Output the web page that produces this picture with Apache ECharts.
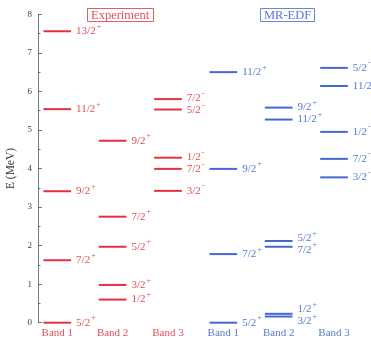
<!DOCTYPE html>
<html><head><meta charset="utf-8">
<script src="https://cdn.jsdelivr.net/npm/echarts@6/dist/echarts.min.js"></script>
<style>html,body{margin:0;padding:0;background:#fff}#c{width:371px;height:338px}</style>
</head><body><div id="c"></div><script>
// Categories
const bandNames = ['Band 1', 'Band 2', 'Band 3', 'Band 1', 'Band 2', 'Band 3'];
// Experiment levels (MeV) and spin-parity labels
const expBand1E = [0, 1.62, 3.41, 5.54, 7.56];
const expBand1J = ['5/2+', '7/2+', '9/2+', '11/2+', '13/2+'];
const expBand2E = [0.60, 0.98, 1.97, 2.75, 4.72];
const expBand2J = ['1/2+', '3/2+', '5/2+', '7/2+', '9/2+'];
const expBand3E = [3.42, 3.99, 4.28, 5.53, 5.80];
const expBand3J = ['3/2-', '7/2-', '1/2-', '5/2-', '7/2-'];
// MR-EDF levels
const mrBand1E = [0, 1.78, 3.99, 6.50];
const mrBand1J = ['5/2+', '7/2+', '9/2+', '11/2+'];
const mrBand2E = [0.16, 0.23, 1.97, 2.12, 5.27, 5.58];
const mrBand2J = ['3/2+', '1/2+', '7/2+', '5/2+', '11/2+', '9/2+'];
const mrBand3E = [3.77, 4.25, 4.95, 6.14, 6.61];
const mrBand3J = ['3/2-', '7/2-', '1/2-', '11/2-', '5/2-'];
const yTicks = [0, 1, 2, 3, 4, 5, 6, 7, 8];

const bandE = [expBand1E, expBand2E, expBand3E, mrBand1E, mrBand2E, mrBand3E];
const bandJ = [expBand1J, expBand2J, expBand3J, mrBand1J, mrBand2J, mrBand3J];

const RED = '#e3313c', BLUE = '#4468d4';
const RED_T = '#e2505a', BLUE_T = '#5878d2';
const FONT = 'Liberation Serif';

const data = [];
const labels = [];
bandE.forEach((arr, bi) => arr.forEach((e, k) => { data.push([bi, e]); labels.push([bi, k]); }));

function dodge(ys, gap) {
  const idx = ys.map((y, i) => i).sort((a, b) => ys[a] - ys[b]);
  const out = ys.slice();
  for (let it = 0; it < 30; it++) {
    for (let j = 1; j < idx.length; j++) {
      const a = idx[j - 1], b = idx[j];
      const d = out[b] - out[a];
      if (d < gap) { const s = (gap - d) / 2; out[a] -= s; out[b] += s; }
    }
  }
  return out;
}

function richText(j) {
  const frac = j.slice(0, -1), par = j.slice(-1);
  return '{n|' + frac + '}{s|' + (par === '+' ? '+' : '-') + '}';
}

const chart = echarts.init(document.getElementById('c'));
chart.setOption({
  animation: false,
  title: [
    { text: 'Experiment', left: 87, top: 8, padding: [1, 4, 0, 4], borderColor: RED, borderWidth: 0.8,
      textStyle: { fontFamily: FONT, fontSize: 12.5, fontWeight: 'normal', color: RED_T } },
    { text: 'MR-EDF', left: 260, top: 8, padding: [1, 4, 0, 4], borderColor: BLUE, borderWidth: 0.8,
      textStyle: { fontFamily: FONT, fontSize: 12.5, fontWeight: 'normal', color: BLUE_T } }
  ],
  grid: { left: 29.6, right: 9.3, top: 14.3, bottom: 15.3, containLabel: false, outerBoundsMode: 'none' },
  xAxis: {
    type: 'category', data: bandNames,
    axisLine: { show: false }, axisTick: { show: false }, splitLine: { show: false },
    axisLabel: { margin: 5, fontFamily: FONT, fontSize: 11, interval: 0,
      color: (v, i) => (i < 3 ? RED_T : BLUE_T) }
  },
  yAxis: {
    type: 'value', min: 0, max: 8, interval: 1, offset: -8.4,
    name: 'E (MeV)', nameLocation: 'middle', nameGap: 19,
    nameTextStyle: { fontFamily: FONT, fontSize: 11.5, color: '#333' },
    axisLine: { show: true, lineStyle: { color: '#555', width: 0.8 } },
    axisTick: { show: true, inside: true, length: 4, lineStyle: { color: '#555', width: 0.8 } },
    minorTick: { show: true, splitNumber: 2, length: 2.5, lineStyle: { color: '#555', width: 0.8 } },
    splitLine: { show: false },
    axisLabel: { margin: 6, fontFamily: FONT, fontSize: 9, color: '#444',
      formatter: v => (yTicks.indexOf(v) >= 0 ? String(v) : '') }
  },
  series: [{
    type: 'custom',
    data: data,
    clip: false,
    renderItem: function (params, api) {
      const bi = api.value(0), e = api.value(1);
      const p = api.coord([bi, e]);
      const bw = api.size([1, 0])[0];
      const half = bw * 0.25;
      const k = labels[params.dataIndex][1];
      const ys = bandE[bi].map(v => api.coord([bi, v])[1]);
      const ly = dodge(ys, 11.5)[k];
      const col = bi < 3 ? RED : BLUE;
      const tcol = bi < 3 ? RED_T : BLUE_T;
      return {
        type: 'group',
        children: [
          { type: 'line', shape: { x1: p[0] - half, y1: p[1], x2: p[0] + half, y2: p[1] },
            style: { stroke: col, lineWidth: 2 } },
          { type: 'text', x: p[0] + half + 5, y: ly - 1.5,
            style: {
              text: richText(bandJ[bi][k]), fill: tcol, align: 'left', verticalAlign: 'middle',
              fontFamily: FONT, fontSize: 11,
              rich: {
                n: { fontFamily: FONT, fontSize: 11, fill: tcol, color: tcol, verticalAlign: 'bottom', lineHeight: 14 },
                s: { fontFamily: FONT, fontSize: 8, fill: tcol, color: tcol, verticalAlign: 'top', lineHeight: 14, padding: [0, 0, 0, 1] }
              }
            } }
        ]
      };
    }
  }]
});
</script></body></html>
